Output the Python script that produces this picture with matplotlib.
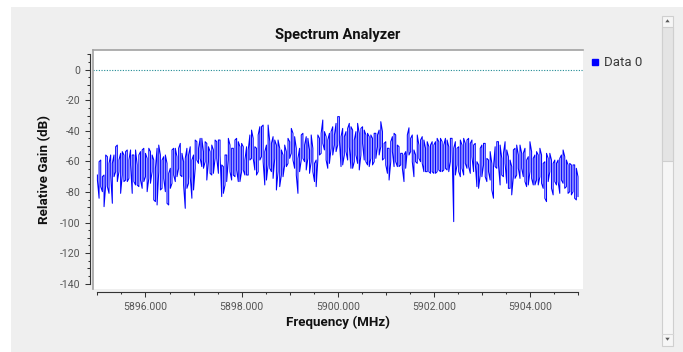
import numpy as np
import matplotlib
matplotlib.use('Agg')
import matplotlib.pyplot as plt
from matplotlib.patches import Rectangle, Polygon
from matplotlib.ticker import FixedLocator, MultipleLocator, FuncFormatter

plt.rcParams['font.family'] = ['Roboto', 'DejaVu Sans']

# top and bottom of each swing of the sweep, left to right (dB)
peak_db = [
    -68.9, -60.2, -59.1, -70.0, -68.9, -55.8, -56.9, -61.3, -55.8, -61.3,
    -55.8, -50.4, -49.3, -59.1, -54.7, -53.6, -55.8, -53.6, -52.5, -59.1,
    -52.5, -55.8, -55.8, -52.5, -62.3, -55.8, -53.6, -52.5, -51.4, -54.7,
    -58.0, -51.4, -53.6, -55.8, -59.1, -64.5, -51.4, -49.3, -55.8, -59.1,
    -56.9, -55.8, -61.3, -67.8, -64.5, -52.5, -51.4, -51.4, -56.9, -51.4,
    -48.2, -54.7, -60.2, -58.0, -51.4, -55.8, -50.4, -59.1, -55.8, -46.0,
    -47.1, -51.4, -44.9, -44.9, -53.6, -47.1, -48.2, -50.4, -53.6, -49.3,
    -52.5, -46.0, -47.1,
    -46.0, -46.0, -62.3, -63.4, -55.8, -55.8, -44.9, -49.3, -51.4, -51.4,
    -46.0, -44.9, -47.1, -50.4, -48.2, -50.4, -59.1, -50.4, -52.5, -42.7,
    -39.5, -44.9, -50.4, -51.4, -42.7, -37.3, -37.3, -36.2, -53.6, -49.3,
    -36.2, -47.1, -48.2, -43.8, -46.0, -49.3, -46.0, -51.4, -52.5, -55.8,
    -49.3, -53.6, -44.9, -47.1, -38.4, -41.6, -43.8, -51.4, -58.0, -51.4,
    -42.7, -41.6, -49.3, -43.8, -44.9, -52.5, -42.7, -51.4, -61.3, -59.1,
    -42.7, -44.9, -41.6, -32.9, -40.5, -43.8, -46.0, -41.6, -40.5, -37.3,
    -42.7, -35.1, -30.7,
    -30.7, -43.8, -38.4, -43.8, -40.5, -38.4, -35.1, -37.3, -39.5, -46.0,
    -40.5, -35.1, -41.6, -38.4, -37.3, -39.5, -42.7, -41.6, -43.8, -42.7,
    -44.9, -41.6, -41.6, -42.7, -39.5, -34.0, -40.5, -48.2, -47.1, -51.4,
    -51.4, -47.1, -43.8, -41.6, -42.7, -49.3, -50.4, -54.7, -54.7, -55.8,
    -53.6, -42.7, -38.0, -44.9, -42.7, -52.5, -55.8, -42.7, -49.3, -46.0,
    -43.8, -46.0, -51.4, -47.1, -50.4, -49.3, -47.1, -49.3, -47.1, -44.9,
    -47.1, -44.9, -47.1, -49.3, -44.9, -46.0, -50.4, -44.9, -44.9, -51.4,
    -47.1, -51.4,
    -50.4, -46.0, -49.3, -44.9, -48.2, -46.0, -44.9, -48.2, -46.0, -49.3,
    -48.2, -60.2, -62.3, -51.4, -49.3, -48.2, -48.2, -58.0, -59.1, -53.6,
    -61.3, -63.4, -50.4, -47.1, -47.1, -49.3, -58.0, -54.7, -47.1, -52.5,
    -56.9, -59.1, -63.4, -52.5, -51.4, -49.3, -55.8, -49.3, -54.7, -54.7,
    -51.4, -59.1, -56.9, -47.1, -53.6, -58.0, -55.8, -53.6, -55.8, -51.4,
    -55.8, -61.3, -60.2, -54.7, -58.0, -54.7, -59.1, -61.3, -59.1, -61.3,
    -59.1, -58.0, -55.8, -52.5, -56.9, -59.1, -62.3, -61.3, -62.3, -62.3,
    -62.3, -64.5, -70.0,
]
trough_db = [
    -72.2, -84.1, -76.5, -79.8, -89.6, -75.4, -76.5, -80.9, -68.9, -87.4,
    -70.0, -66.7, -73.2, -66.7, -80.9, -68.9, -73.2, -72.2, -73.2, -71.1,
    -62.3, -80.9, -73.2, -75.4, -75.4, -76.5, -72.2, -77.6, -73.2, -70.0,
    -79.8, -71.1, -74.3, -66.7, -85.2, -86.3, -88.5, -66.7, -78.7, -77.6,
    -71.1, -79.8, -87.4, -88.5, -77.6, -74.3, -68.9, -73.2, -70.0, -64.5,
    -68.9, -70.0, -75.4, -90.7, -77.6, -74.3, -70.0, -84.1, -78.7, -64.5,
    -59.1, -61.3, -58.0, -63.4, -64.5, -60.2, -72.2, -60.2, -67.8, -68.9,
    -67.8, -58.0, -58.0,
    -67.8, -55.8, -83.0, -80.9, -75.4, -73.2, -59.1, -66.7, -72.2, -68.9,
    -70.0, -65.6, -73.2, -73.2, -66.7, -65.6, -68.9, -68.9, -68.9, -59.1,
    -58.0, -58.0, -65.6, -68.9, -66.7, -59.1, -56.9, -60.2, -75.4, -72.2,
    -62.3, -64.5, -66.7, -71.1, -58.0, -78.7, -66.7, -76.5, -68.9, -70.0,
    -62.3, -63.4, -61.3, -58.0, -54.7, -59.1, -64.5, -68.9, -80.9, -66.7,
    -59.1, -58.0, -60.2, -65.6, -58.0, -67.8, -60.2, -66.7, -73.2, -76.5,
    -59.1, -55.8, -54.7, -48.2, -52.5, -59.1, -64.5, -61.3, -51.4, -55.8,
    -49.3, -53.6, -49.3,
    -46.0, -63.4, -62.3, -55.8, -53.6, -59.1, -50.4, -64.5, -64.5, -60.2,
    -55.8, -61.3, -65.6, -55.8, -48.2, -59.1, -60.2, -62.3, -63.4, -58.0,
    -62.3, -60.2, -58.0, -50.4, -55.8, -50.4, -59.1, -58.0, -62.3, -67.8,
    -72.2, -60.2, -53.6, -63.4, -60.2, -63.4, -63.4, -62.3, -64.5, -73.2,
    -64.5, -52.5, -55.8, -53.6, -60.2, -70.0, -60.2, -61.3, -58.0, -60.2,
    -61.3, -66.7, -66.7, -66.7, -66.7, -67.8, -66.7, -67.8, -67.8, -66.7,
    -65.6, -66.7, -66.7, -65.6, -64.5, -65.6, -66.7, -60.2, -52.5, -99.4,
    -68.9, -62.3,
    -66.7, -70.0, -64.5, -68.9, -61.3, -64.5, -63.4, -67.8, -56.9, -66.7,
    -61.3, -76.5, -77.6, -68.9, -70.0, -62.3, -70.0, -73.2, -66.7, -72.2,
    -78.7, -84.1, -63.4, -64.5, -62.3, -75.4, -68.9, -70.0, -61.3, -74.3,
    -77.6, -77.6, -81.9, -70.0, -71.1, -68.9, -64.5, -71.1, -64.5, -70.0,
    -73.2, -76.5, -75.4, -66.7, -71.1, -75.4, -75.4, -72.2, -75.4, -70.0,
    -74.3, -77.6, -84.1, -86.3, -73.2, -66.7, -77.6, -81.9, -73.2, -75.4,
    -73.2, -80.9, -72.2, -74.3, -77.6, -76.5, -80.9, -79.8, -81.9, -79.8,
    -84.1, -85.2, -83.0,
]

freq_start, freq_stop = 5895.0, 5905.0
x_ticks = np.arange(5895, 5906, 1)
y_ticks = np.arange(-140, 11, 10)

# each swing is a vertical stroke; alternate its direction so the trace
# runs peak->trough, trough->peak, ... like the sweep line
peaks = np.asarray(peak_db)
troughs = np.asarray(trough_db)
n_swing = peaks.size
down = np.arange(n_swing) % 2 == 0
gain_db = np.column_stack([np.where(down, peaks, troughs),
                           np.where(down, troughs, peaks)]).ravel()
freq_mhz = np.repeat(np.linspace(freq_start, freq_stop, n_swing), 2)

W, H = 683, 352
fig = plt.figure(figsize=(W / 100, H / 100), dpi=100, facecolor='white')

# window chrome: grey panel, scrollbar
deco = fig.add_axes([0, 0, 1, 1], zorder=-1)
deco.set_xlim(0, W)
deco.set_ylim(H, 0)
deco.axis('off')
deco.add_patch(Rectangle((11, 7), W - 11, H - 7, fc='#efefef', ec='none'))
deco.add_patch(Rectangle((662, 15.5), 11, 330, fc='#f6f6f6', ec='#cfcfcf', lw=0.8))
deco.add_patch(Rectangle((662, 27), 11, 134, fc='#e4e4e4', ec='#cfcfcf', lw=0.8))
deco.plot([662, 673], [334, 334], color='#d6d6d6', lw=0.8)
deco.add_patch(Polygon([(665.3, 22.3), (669.7, 22.3), (667.5, 19.3)], fc='#5a5a5a', ec='none'))
deco.add_patch(Polygon([(665.3, 337.7), (669.7, 337.7), (667.5, 340.7)], fc='#5a5a5a', ec='none'))

# legend
deco.plot([595], [61.5], marker='s', ms=4.3, color='#0000ff', ls='none')
deco.text(604, 62, 'Data 0', fontsize=9.5, va='center', ha='left', color='#3a3a3a')

ax = fig.add_axes([93 / W, 1 - 289 / H, 490 / W, 239 / H])
ax.set_facecolor('white')
ax.plot(freq_mhz, gain_db, color='#0000ff', lw=0.75)
ax.axhline(0, color='#1f8a94', lw=0.8, ls=(0, (1, 1.4)))

ax.set_xlim(5894.908, 5905.104)
ax.set_ylim(-143.47, 12.89)

# sunken canvas frame
ax.plot([0, 0], [0, 1], transform=ax.transAxes, color='#a2a2a2', lw=1.2, clip_on=False)
ax.plot([0, 1], [1, 1], transform=ax.transAxes, color='#a2a2a2', lw=1.2, clip_on=False)

for side in ['top', 'right']:
    ax.spines[side].set_visible(False)
ax.spines['left'].set_position(('outward', 2.2))
ax.spines['left'].set_bounds(-140, 10)
ax.spines['bottom'].set_position(('outward', 2.0))
ax.spines['bottom'].set_bounds(freq_start, freq_stop)
for side in ['left', 'bottom']:
    ax.spines[side].set_color('#333333')
    ax.spines[side].set_linewidth(0.8)

ax.xaxis.set_major_locator(FixedLocator(x_ticks))
ax.xaxis.set_minor_locator(MultipleLocator(0.5))
ax.xaxis.set_major_formatter(FuncFormatter(
    lambda v, p: '%.3f' % v if int(round(v)) % 2 == 0 else ''))
ax.yaxis.set_major_locator(FixedLocator(y_ticks))
ax.yaxis.set_minor_locator(MultipleLocator(5))
ax.yaxis.set_major_formatter(FuncFormatter(
    lambda v, p: '%d' % v if int(round(v)) % 20 == 0 else ''))

ax.tick_params(which='both', direction='out', color='#333333', width=0.75,
               labelcolor='#555555', labelsize=7.6, pad=3.4)
ax.tick_params(which='major', length=3.6)
ax.tick_params(which='minor', length=1.7)

# medium ticks between the labelled ones
for tick, v in zip(ax.xaxis.get_major_ticks(), x_ticks):
    if int(round(v)) % 2:
        tick.tick1line.set_markersize(2.5)
for tick, v in zip(ax.yaxis.get_major_ticks(), y_ticks):
    if int(round(v)) % 20:
        tick.tick1line.set_markersize(2.5)

fig.text(338 / W, 1 - 35 / H, 'Spectrum Analyzer', ha='center', va='center',
         fontsize=10.5, fontweight='bold', color='#111111')
fig.text(338 / W, 1 - 322 / H, 'Frequency (MHz)', ha='center', va='center',
         fontsize=9.6, fontweight='bold', color='#111111')
fig.text(45 / W, 1 - 169 / H, 'Relative Gain (dB)', ha='center', va='center',
         rotation=90, fontsize=9.6, fontweight='bold', color='#111111')

fig.savefig('out.png', dpi=100)
